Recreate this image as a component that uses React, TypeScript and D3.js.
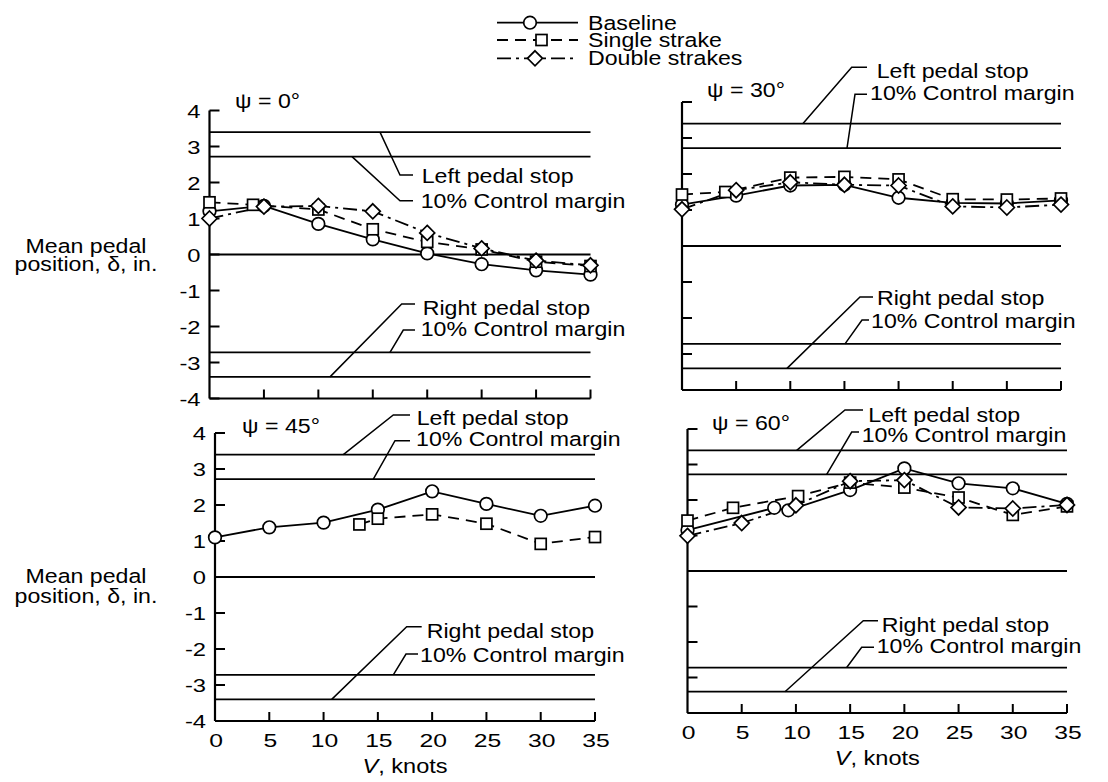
import React from 'react';
import * as d3 from 'd3';

const FONT = '"Liberation Sans", Arial, Helvetica, sans-serif';

// ---------- data ----------
const seriesNames = ['Baseline', 'Single strake', 'Double strakes'];
const xTicks = [0, 5, 10, 15, 20, 25, 30, 35];
const yTicks = [-4, -3, -2, -1, 0, 1, 2, 3, 4];
const refLevels = [3.4, 2.72, 0, -2.72, -3.4];
const panelTitles = ['ψ = 0°', 'ψ = 30°', 'ψ = 45°', 'ψ = 60°'];
const upperLabels = ['Left pedal stop', '10% Control margin'];
const lowerLabels = ['Right pedal stop', '10% Control margin'];

// psi = 0
const p0BaseV = [0, 5, 10, 15, 20, 25, 30, 35];
const p0BaseD = [1.2, 1.35, 0.85, 0.42, 0.03, -0.27, -0.44, -0.56];
const p0SingV = [0, 4, 10, 15, 20, 25, 30, 35];
const p0SingD = [1.45, 1.38, 1.25, 0.7, 0.35, 0.14, -0.2, -0.32];
const p0DoubV = [0, 5, 10, 15, 20, 25, 30, 35];
const p0DoubD = [1.0, 1.33, 1.35, 1.2, 0.6, 0.17, -0.17, -0.3];
// psi = 30
const p30BaseV = [0, 5, 10, 15, 20, 25, 30, 35];
const p30BaseD = [1.15, 1.4, 1.68, 1.7, 1.34, 1.2, 1.18, 1.27];
const p30SingV = [0, 4, 10, 15, 20, 25, 30, 35];
const p30SingD = [1.43, 1.5, 1.9, 1.92, 1.85, 1.3, 1.29, 1.32];
const p30DoubV = [0, 5, 10, 15, 20, 25, 30, 35];
const p30DoubD = [1.02, 1.55, 1.77, 1.7, 1.68, 1.1, 1.07, 1.15];
// psi = 45
const p45BaseV = [0, 5, 10, 15, 20, 25, 30, 35];
const p45BaseD = [1.1, 1.38, 1.51, 1.87, 2.38, 2.03, 1.7, 1.98];
const p45SingV = [13.3, 15, 20, 25, 30, 35];
const p45SingD = [1.46, 1.62, 1.74, 1.48, 0.92, 1.11];
// psi = 60
const p60BaseV = [0, 8, 9.3, 15, 20, 25, 30, 35];
const p60BaseD = [1.15, 1.78, 1.71, 2.28, 2.89, 2.47, 2.33, 1.89];
const p60SingV = [0, 4.2, 10.2, 15, 20, 25, 30, 35];
const p60SingD = [1.42, 1.78, 2.11, 2.49, 2.35, 2.07, 1.58, 1.82];
const p60DoubV = [0, 5, 10, 15, 20, 25, 30, 35];
const p60DoubD = [0.99, 1.35, 1.85, 2.53, 2.56, 1.79, 1.76, 1.86];

const zip = (v: number[], d: number[]) => v.map((x, i) => [x, d[i]] as [number, number]);

// ---------- styles ----------
const seriesDash = ['none', '11,7', '14,5,3,5'];
const seriesMarker = ['circle', 'square', 'diamond'];
const LW = 1.8;

// ---------- layout ----------
type Callout = { level: number; lx: number; ex: number; ey: number; sx: number; tx: number; ty: number; label: string };

const panels = [
  {
    title: panelTitles[0], tx: 235, ty: 108,
    x0: 209.5, x1: 590.5, yt: 110.5, yb: 398.5, showY: true, showX: false,
    series: [zip(p0BaseV, p0BaseD), zip(p0SingV, p0SingD), zip(p0DoubV, p0DoubD)],
    callouts: [
      { level: 3.4, lx: 380, ex: 400, ey: 175, sx: 413, tx: 421.7, ty: 182.5, label: upperLabels[0] },
      { level: 2.72, lx: 352, ex: 400, ey: 200.7, sx: 413, tx: 420.7, ty: 208, label: upperLabels[1] },
      { level: -3.4, lx: 330, ex: 401.7, ey: 304, sx: 415, tx: 422.7, ty: 315, label: lowerLabels[0] },
      { level: -2.72, lx: 390, ex: 403.3, ey: 330, sx: 415, tx: 420.7, ty: 335.5, label: lowerLabels[1] },
    ] as Callout[],
  },
  {
    title: panelTitles[1], tx: 707, ty: 97,
    x0: 682, x1: 1061, yt: 102, yb: 390, showY: false, showX: false,
    series: [zip(p30BaseV, p30BaseD), zip(p30SingV, p30SingD), zip(p30DoubV, p30DoubD)],
    callouts: [
      { level: 3.4, lx: 803, ex: 851.7, ey: 67.3, sx: 867, tx: 876.7, ty: 77.7, label: upperLabels[0] },
      { level: 2.72, lx: 847, ex: 855, ey: 94.3, sx: 867, tx: 870, ty: 100, label: upperLabels[1] },
      { level: -3.4, lx: 787, ex: 860, ey: 297, sx: 873, tx: 877, ty: 305, label: lowerLabels[0] },
      { level: -2.72, lx: 845, ex: 862, ey: 320, sx: 869, tx: 871, ty: 328, label: lowerLabels[1] },
    ] as Callout[],
  },
  {
    title: panelTitles[2], tx: 242, ty: 433,
    x0: 215, x1: 595, yt: 433, yb: 721, showY: true, showX: true,
    series: [zip(p45BaseV, p45BaseD), zip(p45SingV, p45SingD), [] as [number, number][]],
    callouts: [
      { level: 3.4, lx: 343.3, ex: 393.3, ey: 415, sx: 410, tx: 416.7, ty: 425, label: upperLabels[0] },
      { level: 2.72, lx: 373.3, ex: 395, ey: 440.7, sx: 410, tx: 416, ty: 446, label: upperLabels[1] },
      { level: -3.4, lx: 331.7, ex: 406.7, ey: 626.7, sx: 421.7, tx: 426.7, ty: 638, label: lowerLabels[0] },
      { level: -2.72, lx: 393.3, ex: 406, ey: 654, sx: 418, tx: 420, ty: 661.5, label: lowerLabels[1] },
    ] as Callout[],
  },
  {
    title: panelTitles[3], tx: 712, ty: 430,
    x0: 687.5, x1: 1067, yt: 429, yb: 713, showY: false, showX: true,
    series: [zip(p60BaseV, p60BaseD), zip(p60SingV, p60SingD), zip(p60DoubV, p60DoubD)],
    callouts: [
      { level: 3.4, lx: 796.7, ex: 845, ey: 410, sx: 863, tx: 868.3, ty: 422, label: upperLabels[0] },
      { level: 2.72, lx: 826.7, ex: 851.7, ey: 432, sx: 859, tx: 861.7, ty: 442, label: upperLabels[1] },
      { level: -3.4, lx: 785, ex: 863.3, ey: 620.7, sx: 878, tx: 881.7, ty: 632, label: lowerLabels[0] },
      { level: -2.72, lx: 846.7, ex: 861.7, ey: 647.3, sx: 874, tx: 876.7, ty: 653, label: lowerLabels[1] },
    ] as Callout[],
  },
];

// ---------- helpers ----------
function T({ x, y, children, size = 20.5, sx = 1.13, anchor = 'start' }: any) {
  return (
    <text transform={`translate(${x},${y}) scale(${sx},1)`} fontSize={size} textAnchor={anchor} fontFamily={FONT} fill="#000">
      {children}
    </text>
  );
}

function Marker({ kind, cx, cy }: { kind: string; cx: number; cy: number }) {
  const common = { fill: '#fff', stroke: '#000', strokeWidth: 1.7 };
  if (kind === 'circle') return <circle cx={cx} cy={cy} r={6.3} {...common} />;
  if (kind === 'square') return <rect x={cx - 5.5} y={cy - 5.5} width={11} height={11} {...common} />;
  const h = 7.5;
  return <path d={`M${cx},${cy - h}L${cx + h},${cy}L${cx},${cy + h}L${cx - h},${cy}Z`} {...common} />;
}

function Panel({ p }: { p: (typeof panels)[number] }) {
  const x = d3.scaleLinear().domain([0, 35]).range([p.x0, p.x1]);
  const y = d3.scaleLinear().domain([-4, 4]).range([p.yb, p.yt]);
  const line = d3.line<[number, number]>().x((d) => x(d[0])).y((d) => y(d[1]));
  return (
    <g>
      {/* reference lines */}
      {refLevels.map((lv, i) => (
        <line key={'r' + i} x1={x(0)} x2={x(35)} y1={y(lv)} y2={y(lv)} stroke="#000" strokeWidth={LW} />
      ))}
      {/* axes */}
      <line x1={x(0)} x2={x(0)} y1={y(4)} y2={y(-4)} stroke="#000" strokeWidth={2.2} />
      <line x1={x(0)} x2={x(35)} y1={y(-4)} y2={y(-4)} stroke="#000" strokeWidth={2.2} />
      {yTicks.map((t) => (
        <line key={'yt' + t} x1={x(0)} x2={x(0) + 10} y1={y(t)} y2={y(t)} stroke="#000" strokeWidth={2} />
      ))}
      {xTicks.filter((t) => t > 0).map((t) => (
        <line key={'xt' + t} x1={x(t)} x2={x(t)} y1={y(-4)} y2={y(-4) - 9} stroke="#000" strokeWidth={2} />
      ))}
      {p.showY && yTicks.map((t) => (
        <T key={'yl' + t} x={x(0) - 9} y={y(t) + 7} size={19} sx={1.25} anchor="end">{String(t)}</T>
      ))}
      {p.showX && xTicks.map((t) => (
        <T key={'xl' + t} x={x(t) + 1} y={y(-4) + 26} size={19} sx={1.3} anchor="middle">{String(t)}</T>
      ))}
      {p.showX && (
        <text transform={`translate(${(x(0) + x(35)) / 2},${y(-4) + 52}) scale(1.15,1)`} fontSize={20.5} textAnchor="middle" fontFamily={FONT}>
          <tspan fontStyle="italic">V</tspan>, knots
        </text>
      )}
      <T x={p.tx} y={p.ty}>{p.title}</T>
      {/* callouts */}
      {p.callouts.map((c, i) => (
        <g key={'c' + i}>
          <polyline points={`${c.lx},${y(c.level)} ${c.ex},${c.ey} ${c.sx},${c.ey}`} fill="none" stroke="#000" strokeWidth={1.5} />
          <T x={c.tx} y={c.ty}>{c.label}</T>
        </g>
      ))}
      {/* data lines */}
      {p.series.map((s, i) => s.length > 1 && (
        <path key={'l' + i} d={line(s) || ''} fill="none" stroke="#000" strokeWidth={LW} strokeDasharray={seriesDash[i]} />
      ))}
      {/* markers */}
      {p.series.map((s, i) => s.map((d, j) => (
        <Marker key={'m' + i + '_' + j} kind={seriesMarker[i]} cx={x(d[0])} cy={y(d[1])} />
      )))}
    </g>
  );
}

const legendRows = [
  { ly: 22.7, mx: 530, ty: 29.5 },
  { ly: 40, mx: 541.5, ty: 46.5 },
  { ly: 58.3, mx: 535, ty: 64.5 },
];

export default function App() {
  return (
    <svg width={1108} height={782} style={{ position: 'absolute', left: 0, top: 0, background: '#fff' }}>
      <rect width={1108} height={782} fill="#fff" />
      {/* legend */}
      {seriesNames.map((name, i) => (
        <g key={'lg' + i}>
          <line x1={497} x2={578} y1={legendRows[i].ly} y2={legendRows[i].ly} stroke="#000" strokeWidth={LW} strokeDasharray={seriesDash[i]} />
          <Marker kind={seriesMarker[i]} cx={legendRows[i].mx} cy={legendRows[i].ly} />
          <T x={588} y={legendRows[i].ty}>{name}</T>
        </g>
      ))}
      {/* y titles */}
      <T x={86} y={252.7} anchor="middle">Mean pedal</T>
      <T x={86} y={271} anchor="middle">position, δ, in.</T>
      <T x={86} y={583} anchor="middle">Mean pedal</T>
      <T x={86} y={603} anchor="middle">position, δ, in.</T>
      {panels.map((p, i) => (
        <Panel key={i} p={p} />
      ))}
    </svg>
  );
}
